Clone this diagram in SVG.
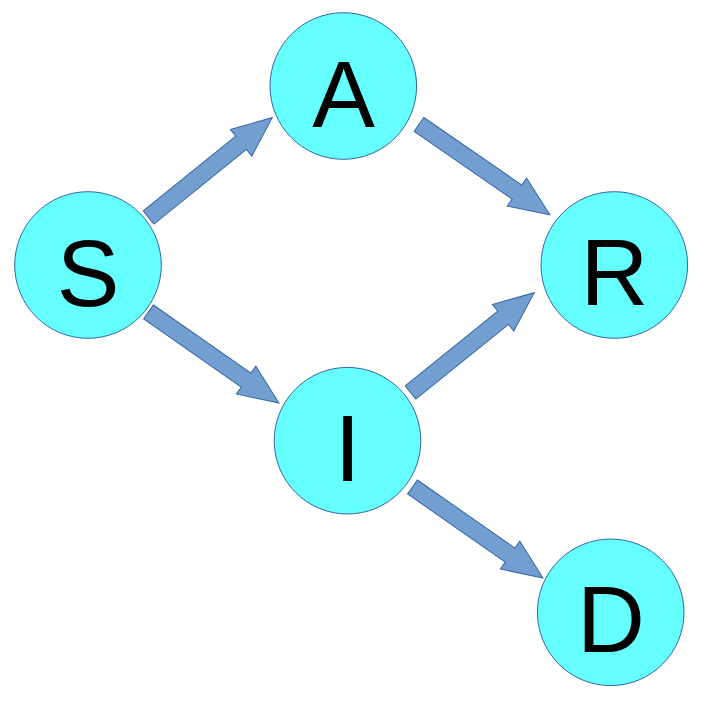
<svg xmlns="http://www.w3.org/2000/svg" xmlns:xlink="http://www.w3.org/1999/xlink" width="724" height="702" viewBox="0 0 724 702">
<style>
.node circle{fill:#66ffff;stroke:#3465a4;stroke-width:1}
.node text{font-family:"Liberation Sans",Arial,sans-serif;font-size:94px;fill:#000;text-anchor:middle}
.arr{fill:#729fcf;stroke:#3465a4;stroke-width:1;stroke-linejoin:miter}
</style>
<defs>
<polygon id="arrow" points="0,-8.5 119,-8.5 119,-17 159,0 119,17 119,8.5 0,8.5"/>
</defs>
<rect width="724" height="702" fill="#ffffff"/>
<g id="connectors">
<use xlink:href="#arrow" href="#arrow" class="arr" transform="translate(148.5,217.5) rotate(-38.9)"/>
<use xlink:href="#arrow" href="#arrow" class="arr" transform="translate(148.5,312) rotate(34.9)"/>
<use xlink:href="#arrow" href="#arrow" class="arr" transform="translate(419,124.5) rotate(34.6)"/>
<use xlink:href="#arrow" href="#arrow" class="arr" transform="translate(410.5,392.5) rotate(-38.9)"/>
<use xlink:href="#arrow" href="#arrow" class="arr" transform="translate(412.5,487) rotate(34.9)"/>
</g>
<g id="node-S" class="node"><circle cx="88" cy="265" r="73.3"/><text x="88" y="305.5">S</text></g>
<g id="node-A" class="node"><circle cx="343.3" cy="86" r="73.3"/><text x="343.5" y="126.5">A</text></g>
<g id="node-R" class="node"><circle cx="614.3" cy="265" r="73.3"/><text x="614.5" y="305">R</text></g>
<g id="node-I" class="node"><circle cx="347.5" cy="440.7" r="73.3"/><text x="347.5" y="481">I</text></g>
<g id="node-D" class="node"><circle cx="610.7" cy="612.3" r="73.3"/><text x="611" y="652">D</text></g>
</svg>
